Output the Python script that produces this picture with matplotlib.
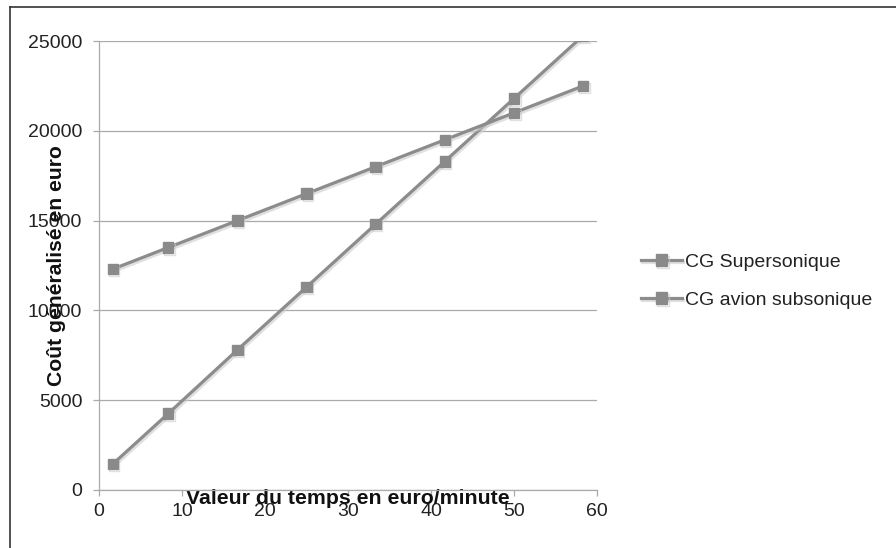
import matplotlib
matplotlib.use("Agg")
import matplotlib.pyplot as plt
import matplotlib.patheffects as pe
from matplotlib.lines import Line2D

plt.rcParams['font.family'] = ['Liberation Sans', 'DejaVu Sans']

# Data
x_values = [1.67, 8.33, 16.67, 25.0, 33.33, 41.67, 50.0, 58.33]
cg_supersonique = [1450, 4250, 7800, 11300, 14800, 18300, 21800, 25300]
cg_subsonique = [12300, 13500, 15000, 16500, 18000, 19500, 21000, 22500]
series_names = ["CG Supersonique", "CG avion subsonique"]
x_ticks = [0, 10, 20, 30, 40, 50, 60]
y_ticks = [0, 5000, 10000, 15000, 20000, 25000]
x_label = "Valeur du temps en euro/minute"
y_label = "Coût généralisé en euro"

W, H = 896, 548
fig = plt.figure(figsize=(W / 100, H / 100), dpi=100)
fig.patch.set_facecolor('white')

# outer frame (left and top visible)
fig.add_artist(Line2D([10 / W, 10 / W], [0, 1 - 7 / H], color='#333333', lw=1.2,
                      transform=fig.transFigure))
fig.add_artist(Line2D([10 / W, 1], [1 - 7 / H, 1 - 7 / H], color='#333333', lw=1.2,
                      transform=fig.transFigure))

left, right, top, bottom = 99, 597, 41, 490
ax = fig.add_axes([left / W, 1 - bottom / H, (right - left) / W, (bottom - top) / H])

line_color = '#8c8c8c'

for yv, name in zip([cg_supersonique, cg_subsonique], series_names):
    ax.plot(x_values, yv, color=line_color, lw=2.3, marker='s', markersize=7.5,
            markerfacecolor='#8a8a8a', markeredgecolor='#8a8a8a', label=name,
            path_effects=[pe.SimpleLineShadow(offset=(1, -1.5), shadow_color='#cccccc', alpha=0.6), pe.Normal()],
            clip_on=True, zorder=3)

ax.set_xlim(0, 60)
ax.set_ylim(0, 25000)
ax.set_xticks(x_ticks)
ax.set_yticks(y_ticks)
ax.yaxis.grid(True, color='#aaaaaa', lw=0.9)
ax.set_axisbelow(True)

for s in ['top', 'right']:
    ax.spines[s].set_visible(False)
for s in ['left', 'bottom']:
    ax.spines[s].set_color('#aaaaaa')
    ax.spines[s].set_linewidth(0.9)

ax.tick_params(axis='both', colors='#aaaaaa', labelcolor='#222222', labelsize=14,
               length=4.5, width=0.9, direction='out')
ax.tick_params(axis='y', pad=7.5)
ax.tick_params(axis='x', pad=5)

ax.set_xlabel(x_label, fontsize=15.3, fontweight='bold', color='#111111')
ax.xaxis.set_label_coords(0.5, -0.018)
ax.xaxis.label.set_va('center')

ax.set_ylabel(y_label, fontsize=15.2, fontweight='bold', color='#111111')
ax.yaxis.set_label_coords(-0.086, 0.5)
ax.yaxis.label.set_va('center')

leg = fig.legend(loc='center left', bbox_to_anchor=(641 / W, 1 - 281 / H), frameon=False,
                 fontsize=14, handlelength=2.1, handletextpad=0.15, labelspacing=1.05,
                 borderpad=0, borderaxespad=0, markerscale=1.1)
for t in leg.get_texts():
    t.set_color('#222222')

fig.savefig("out.png", dpi=100, facecolor='white')
